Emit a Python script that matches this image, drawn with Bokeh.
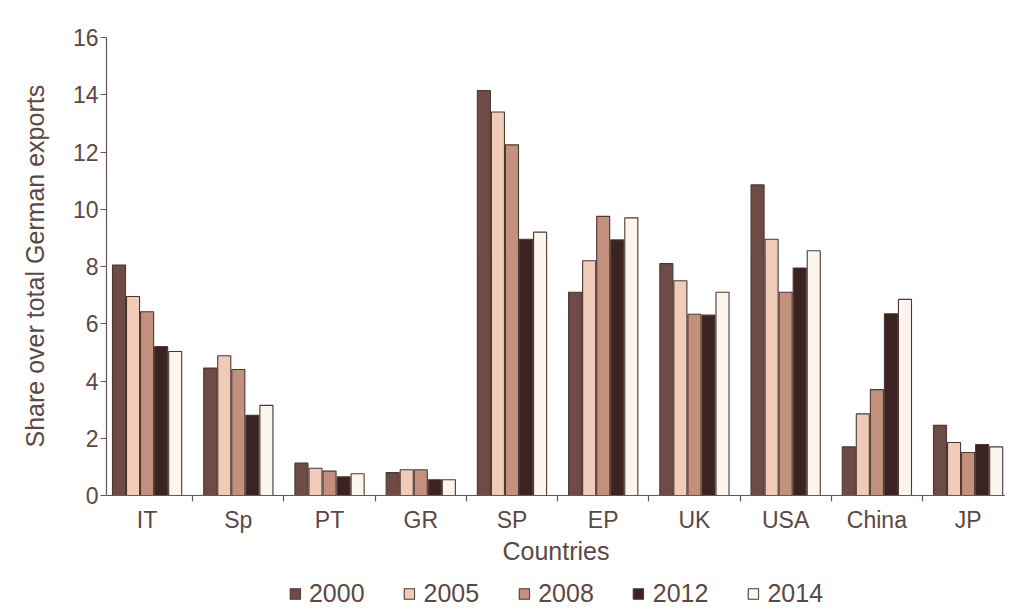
from bokeh.plotting import figure
from bokeh.models import ColumnDataSource, Range1d, FixedTicker, Legend, LegendItem, Title
from bokeh.transform import dodge
from bokeh.embed import file_html
from bokeh.resources import INLINE

countries = ["IT", "Sp", "PT", "GR", "SP", "EP", "UK", "USA", "China", "JP"]
years = ["2000", "2005", "2008", "2012", "2014"]
v2000 = [8.05, 4.45, 1.13, 0.80, 14.15, 7.10, 8.10, 10.85, 1.70, 2.45]
v2005 = [6.95, 4.88, 0.95, 0.90, 13.40, 8.20, 7.50, 8.95, 2.85, 1.85]
v2008 = [6.42, 4.40, 0.85, 0.90, 12.25, 9.75, 6.33, 7.10, 3.70, 1.50]
v2012 = [5.20, 2.80, 0.65, 0.55, 8.95, 8.93, 6.30, 7.95, 6.35, 1.78]
v2014 = [5.03, 3.15, 0.76, 0.55, 9.20, 9.70, 7.10, 8.55, 6.85, 1.70]
y_ticks = [0, 2, 4, 6, 8, 10, 12, 14, 16]

colors = ["#6e4b45", "#efcbb8", "#c3907e", "#3b2321", "#fbf5ee"]
TXT = "#5b4843"
LINE = "#6a5550"
FONT = "Liberation Sans"

src = ColumnDataSource(dict(x=list(range(len(countries))),
                            y2000=v2000, y2005=v2005, y2008=v2008,
                            y2012=v2012, y2014=v2014))

# frame extends below zero so the legend can sit inside it (458px for 0..16)
PX_PER_UNIT = 458 / 16
EXTRA = 117
p = figure(frame_width=899, frame_height=458 + EXTRA, output_backend="svg",
           toolbar_location=None,
           x_range=Range1d(-0.445, 9.41), y_range=Range1d(-EXTRA / PX_PER_UNIT, 16),
           min_border_left=106, min_border_top=37, min_border_right=0,
           min_border_bottom=0)
p.background_fill_color = "white"
p.border_fill_color = "white"
p.outline_line_color = None
p.grid.visible = False

pitch = 0.154
renderers = []
for k, (yr, c) in enumerate(zip(years, colors)):
    r = p.vbar(x=dodge("x", (k - 2) * pitch, range=p.x_range), top="y" + yr,
               width=0.143, bottom=0, source=src, fill_color=c,
               line_color="#4d3733", line_width=1.1)
    renderers.append(r)

xa = p.xaxis[0]
xa.fixed_location = 0
xa.ticker = FixedTicker(ticks=list(range(len(countries))),
                        minor_ticks=[i - 0.5 for i in range(len(countries))])
xa.major_label_overrides = {i: c for i, c in enumerate(countries)}
xa.major_tick_out = 0
xa.major_tick_in = 0
xa.minor_tick_out = 6
xa.minor_tick_in = 0
xa.minor_tick_line_color = LINE
xa.major_label_standoff = 5
xa.axis_label = "Countries"
xa.axis_label_standoff = 1

ya = p.yaxis[0]
ya.bounds = (0, 16)
ya.ticker = FixedTicker(ticks=y_ticks, minor_ticks=[])
ya.major_tick_out = 6
ya.major_tick_in = 0
ya.major_label_standoff = 2

for ax in (xa, ya):
    ax.axis_line_color = LINE
    ax.axis_line_width = 1.2
    ax.major_tick_line_color = LINE
    ax.major_tick_line_width = 1.2
    ax.minor_tick_line_width = 1.2
    ax.major_label_text_font = FONT
    ax.major_label_text_font_size = "23px"
    ax.major_label_text_color = TXT
    ax.axis_label_text_font = FONT
    ax.axis_label_text_font_size = "25px"
    ax.axis_label_text_font_style = "normal"
    ax.axis_label_text_color = TXT

ytitle = Title(text="Share over total German exports", align="left", offset=165,
               vertical_align="middle", standoff=39, text_font=FONT,
               text_font_size="25px", text_font_style="normal", text_color=TXT)
p.add_layout(ytitle, "left")

legend = Legend(items=[LegendItem(label=yr, renderers=[r]) for yr, r in zip(years, renderers)],
                orientation="horizontal", location="bottom_center",
                glyph_width=13, glyph_height=13, label_standoff=8, spacing=38,
                padding=4, margin=4,
                label_text_font=FONT, label_text_font_size="25px",
                label_text_color=TXT, border_line_color=None,
                background_fill_alpha=0)
p.add_layout(legend)

open("out.html", "w").write(file_html(p, INLINE))
